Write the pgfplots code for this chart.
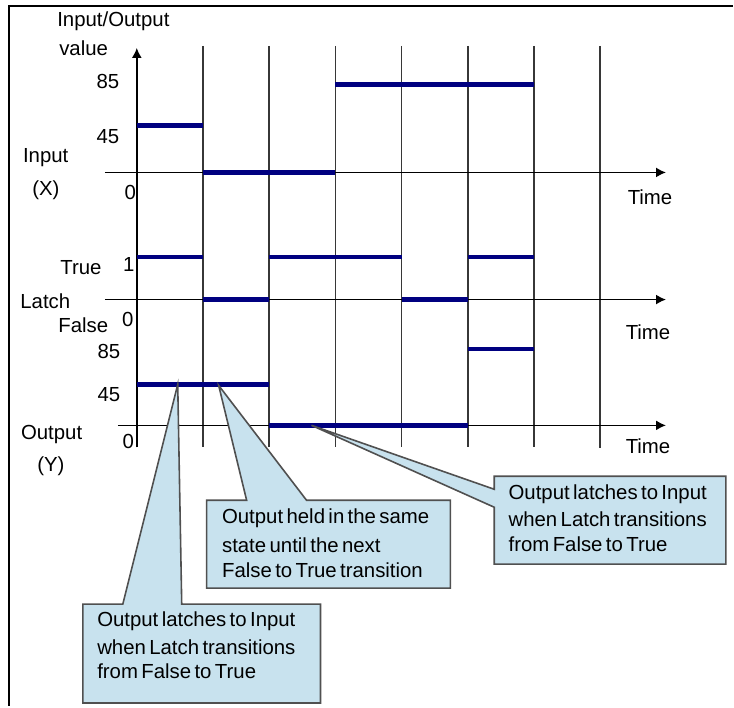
\documentclass[border=0pt]{standalone}
\usepackage{fontspec}
\setmainfont{Liberation Sans}[WordSpace=0.6]
\usepackage{pgfplots}
\usepackage{pgfplotstable}
\pgfplotsset{compat=1.18}
\usetikzlibrary{arrows.meta}
\definecolor{sig}{RGB}{0,0,128}
\definecolor{grd}{RGB}{55,55,55}
\definecolor{cfill}{RGB}{200,226,238}
\definecolor{cedge}{RGB}{80,80,80}

% Input (X): segments from t0 to t1 at value v
\pgfplotstableread{
t0 t1 v
0 1 45
1 3 0
3 6 85
}\inputX
% Latch: 1 = True, 0 = False
\pgfplotstableread{
t0 t1 v
0 1 1
1 2 0
2 4 1
4 5 0
5 6 1
}\latch
% Output (Y)
\pgfplotstableread{
t0 t1 v
0 2 45
2 5 0
5 6 85
}\outputY

\begin{document}
\begin{tikzpicture}[every node/.style={font=\fontsize{10.2}{12}\selectfont, inner sep=0pt}]
\begin{axis}[x=0.5pt, y=0.5pt, y dir=reverse,
  xmin=0, xmax=734, ymin=0, ymax=707,
  hide axis, clip=false]
\path (axis cs:0,0) rectangle (axis cs:734,707);
% frame
\draw[line width=1.1pt] (axis cs:9,707) -- (axis cs:9,6) -- (axis cs:734,6);
% vertical time lines
\draw[grd, line width=0.8pt] (axis cs:203.3,46) -- (axis cs:203.3,448);
\draw[grd, line width=0.8pt] (axis cs:269.6,46) -- (axis cs:269.6,448);
\draw[grd, line width=0.8pt] (axis cs:335.9,46) -- (axis cs:335.9,448);
\draw[grd, line width=0.8pt] (axis cs:402.2,46) -- (axis cs:402.2,448);
\draw[grd, line width=0.8pt] (axis cs:468.5,46) -- (axis cs:468.5,448);
\draw[grd, line width=0.8pt] (axis cs:534.8,46) -- (axis cs:534.8,448);
\draw[grd, line width=0.8pt] (axis cs:601.1,46) -- (axis cs:601.1,449);
% value axis
\draw[black, line width=0.8pt, -{Latex[length=5pt,width=5pt]}] (axis cs:137,448) -- (axis cs:137,48);
% time axes
\draw[black, line width=0.8pt, -{Latex[length=5pt,width=5pt]}] (axis cs:105,172.7) -- (axis cs:667,172.7);
\draw[black, line width=0.8pt, -{Latex[length=5pt,width=5pt]}] (axis cs:105,300) -- (axis cs:667,300);
\draw[black, line width=0.8pt, -{Latex[length=5pt,width=5pt]}] (axis cs:118,426) -- (axis cs:667,426);
% signals
\addplot[sig, line width=2.4pt, no markers, quiver={u=66.3*(\thisrow{t1}-\thisrow{t0}), v=0}]
  table[x expr=137+66.3*\thisrow{t0}, y expr=172.7-1.04*\thisrow{v}] {\inputX};
\addplot[sig, line width=2.4pt, no markers, quiver={u=66.3*(\thisrow{t1}-\thisrow{t0}), v=0}]
  table[x expr=137+66.3*\thisrow{t0}, y expr=300-42.7*\thisrow{v}] {\latch};
\addplot[sig, line width=2.4pt, no markers, quiver={u=66.3*(\thisrow{t1}-\thisrow{t0}), v=0}]
  table[x expr=137+66.3*\thisrow{t0}, y expr=426-0.901*\thisrow{v}] {\outputY};
% callouts
\filldraw[fill=cfill, draw=cedge, line width=0.8pt, line join=miter]
  (axis cs:83,605) -- (axis cs:123,605) -- (axis cs:178,385) -- (axis cs:182,605) -- (axis cs:321,605)
  -- (axis cs:321,704) -- (axis cs:83,704) -- cycle;
\filldraw[fill=cfill, draw=cedge, line width=0.8pt, line join=miter]
  (axis cs:207,501) -- (axis cs:247,501) -- (axis cs:219,386) -- (axis cs:307,501) -- (axis cs:451,501)
  -- (axis cs:451,589) -- (axis cs:207,589) -- cycle;
\filldraw[fill=cfill, draw=cedge, line width=0.8pt, line join=miter]
  (axis cs:495,477) -- (axis cs:727,477) -- (axis cs:727,565) -- (axis cs:495,565)
  -- (axis cs:495,508) -- (axis cs:312,426) -- (axis cs:495,490) -- cycle;
% callout texts
\node[anchor=west] at (axis cs:97,621.7) {Output latches to Input};
\node[anchor=west] at (axis cs:97,648) {when Latch transitions};
\node[anchor=west] at (axis cs:97,672.7) {from False to True};
\node[anchor=west] at (axis cs:222,519) {Output held in the same};
\node[anchor=west] at (axis cs:222,546) {state until the next};
\node[anchor=west] at (axis cs:222,571) {False to True transition};
\node[anchor=west] at (axis cs:509,495) {Output latches to Input};
\node[anchor=west] at (axis cs:509,520) {when Latch transitions};
\node[anchor=west] at (axis cs:509,545) {from False to True};
% labels
\node[anchor=west] at (axis cs:57,21.5) {Input/Output};
\node[anchor=west] at (axis cs:59,48) {value};
\node at (axis cs:108,81.7) {85};
\node at (axis cs:108,136.7) {45};
\node[anchor=west] at (axis cs:22.7,157.5) {Input};
\node[anchor=west] at (axis cs:32,190.7) {(X)};
\node at (axis cs:130.5,192.7) {0};
\node[anchor=west] at (axis cs:60,268.3) {True};
\node at (axis cs:129,265) {1};
\node[anchor=west] at (axis cs:20,301.7) {Latch};
\node[anchor=west] at (axis cs:58,326) {False};
\node at (axis cs:128,320) {0};
\node at (axis cs:109,351.7) {85};
\node at (axis cs:109,395) {45};
\node[anchor=west] at (axis cs:20.7,435) {Output};
\node[anchor=west] at (axis cs:37,466.7) {(Y)};
\node at (axis cs:128.5,441.7) {0};
\node at (axis cs:651,198) {Time};
\node at (axis cs:649,332.7) {Time};
\node at (axis cs:649,446.7) {Time};
\end{axis}
\end{tikzpicture}
\end{document}
